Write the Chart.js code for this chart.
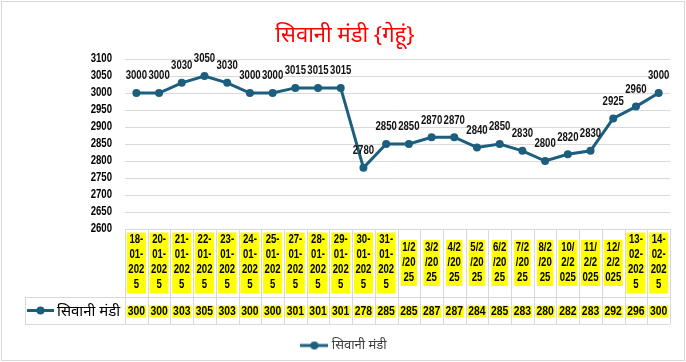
<!DOCTYPE html>
<html><head><meta charset="utf-8">
<script src="https://cdn.jsdelivr.net/npm/chart.js@4"></script>
<style>html,body{margin:0;padding:0;background:#fff}#wrap{width:686px;height:362px;position:relative}</style>
</head><body><div id="wrap"><canvas id="c" width="686" height="362"></canvas></div>
<script>
const categories = ['18-01-2025','20-01-2025','21-01-2025','22-01-2025','23-01-2025','24-01-2025','25-01-2025','27-01-2025','28-01-2025','29-01-2025','30-01-2025','31-01-2025','1/2/2025','3/2/2025','4/2/2025','5/2/2025','6/2/2025','7/2/2025','8/2/2025','10/2/2025','11/2/2025','12/2/2025','13-02-2025','14-02-2025'];
const prices = [3000,3000,3030,3050,3030,3000,3000,3015,3015,3015,2780,2850,2850,2870,2870,2840,2850,2830,2800,2820,2830,2925,2960,3000];
const yMin = 2600, yMax = 3100, yStep = 50;
const seriesName = 'सिवानी मंडी';
const titleText = 'सिवानी मंडी {गेहूं}';

const LINE = '#1b5e7e';
const GRID = '#d9d9d9';
const SANS = "'Liberation Sans',Arial,sans-serif";
const HINDI = "'Noto Sans','Noto Sans Devanagari',Mangal,sans-serif";
const SQ = 0.8; // horizontal squeeze to imitate a narrow bold face

const wrap3 = s => s.match(/.{1,3}/g);
const tableValues = prices.map(v => String(v).slice(0, 3));

const baseFill = CanvasRenderingContext2D.prototype.fillText;
function squeezedFill(ctx, t, x, y) {
  ctx.save(); ctx.translate(x, y); ctx.scale(SQ, 1); baseFill.call(ctx, t, 0, 0); ctx.restore();
}
function condense(scale) {
  if (scale._condensed) return;
  scale._condensed = true;
  const orig = scale.drawLabels;
  scale.drawLabels = function (area) {
    const ctx = this.ctx;
    ctx.fillText = function (t, x, y) { squeezedFill(this, t, x, y); };
    try { orig.call(this, area); } finally { delete ctx.fillText; }
  };
}

function markerImage(w) {
  const c = document.createElement('canvas');
  c.width = w; c.height = 10;
  const g = c.getContext('2d');
  g.strokeStyle = LINE; g.lineWidth = 3;
  g.beginPath(); g.moveTo(0, 5); g.lineTo(w, 5); g.stroke();
  g.fillStyle = LINE; g.beginPath(); g.arc(w / 2, 5, 4, 0, Math.PI * 2); g.fill();
  return c;
}
const legendMarker = markerImage(28);

const TICK_FONT = { family: SANS, size: 12, weight: 'bold', lineHeight: 1.25 };
const TICK_PAD = 11;

const tablePlugin = {
  id: 'tablePlugin',
  beforeDraw(chart) {
    const ctx = chart.ctx;
    const x = chart.scales.x;
    ctx.save();
    ctx.fillStyle = '#fff';
    ctx.fillRect(0, 0, chart.width, chart.height);
    // yellow backdrops behind the category labels
    ctx.font = 'bold 12px ' + SANS;
    const lh = 15;
    categories.forEach((c, i) => {
      const lines = wrap3(c);
      const tw = Math.max(...lines.map(l => ctx.measureText(l).width)) * SQ;
      const cx = x.getPixelForTick(i);
      const top = x.top + TICK_PAD + 30 - lines.length * lh / 2 - lh / 2;
      ctx.fillStyle = '#ffff00';
      ctx.fillRect(cx - tw / 2 - 1.5, top, tw + 3, lines.length * lh + 1);
    });
    ctx.restore();
  },
  afterDraw(chart) {
    const ctx = chart.ctx;
    const x = chart.scales.x;
    const area = chart.chartArea;
    const n = categories.length;
    const w = (area.right - area.left) / n;
    const top = area.bottom;
    const rowTop = 297, rowBot = 324, tableLeft = 25;
    ctx.save();
    ctx.strokeStyle = GRID; ctx.lineWidth = 1;
    ctx.beginPath();
    ctx.moveTo(tableLeft, rowTop + 0.5); ctx.lineTo(area.right, rowTop + 0.5);
    ctx.moveTo(tableLeft, rowBot + 0.5); ctx.lineTo(area.right, rowBot + 0.5);
    ctx.moveTo(tableLeft + 0.5, rowTop); ctx.lineTo(tableLeft + 0.5, rowBot);
    for (let i = 0; i <= n; i++) {
      const bx = Math.round(area.left + i * w) + 0.5;
      ctx.moveTo(bx, top); ctx.lineTo(bx, rowBot);
    }
    ctx.stroke();
    // data row values
    ctx.font = 'bold 13px ' + SANS;
    ctx.textAlign = 'center'; ctx.textBaseline = 'middle';
    const cy = (rowTop + rowBot) / 2 + 1;
    tableValues.forEach((t, i) => {
      const cx = x.getPixelForValue(i);
      const tw = ctx.measureText(t).width * SQ;
      ctx.fillStyle = '#ffff00';
      ctx.fillRect(cx - tw / 2 - 1, cy - 6, tw + 2, 12);
      ctx.fillStyle = '#000';
      squeezedFill(ctx, t, cx, cy);
    });
    // legend key in table
    ctx.strokeStyle = LINE; ctx.lineWidth = 3;
    ctx.beginPath(); ctx.moveTo(27, cy - 1); ctx.lineTo(54, cy - 1); ctx.stroke();
    ctx.fillStyle = LINE; ctx.beginPath(); ctx.arc(40.5, cy - 1, 4, 0, Math.PI * 2); ctx.fill();
    ctx.fillStyle = '#000';
    ctx.font = '15px ' + HINDI;
    ctx.textAlign = 'left';
    ctx.fillText(seriesName, 57, cy);
    // outer border
    ctx.strokeStyle = GRID; ctx.lineWidth = 1;
    ctx.strokeRect(1.5, 1.5, 683, 359);
    ctx.restore();
  },
  afterDatasetsDraw(chart) {
    const ctx = chart.ctx;
    const meta = chart.getDatasetMeta(0);
    ctx.save();
    ctx.font = 'bold 12px ' + SANS;
    ctx.fillStyle = '#111';
    ctx.textAlign = 'center'; ctx.textBaseline = 'middle';
    meta.data.forEach((pt, i) => {
      squeezedFill(ctx, String(prices[i]), pt.x, pt.y - 17);
    });
    ctx.restore();
  }
};

new Chart(document.getElementById('c'), {
  type: 'line',
  data: {
    labels: categories.map(wrap3),
    datasets: [{
      label: seriesName,
      data: prices,
      borderColor: LINE,
      backgroundColor: LINE,
      borderWidth: 3,
      pointRadius: 4,
      pointHoverRadius: 4,
      pointBorderWidth: 0,
      pointBackgroundColor: LINE,
      tension: 0
    }]
  },
  options: {
    responsive: false,
    animation: false,
    devicePixelRatio: 1,
    layout: { padding: { left: 20, right: 16, top: 0, bottom: 0 } },
    plugins: {
      title: {
        display: true, text: titleText, color: '#ff0000',
        font: { family: HINDI, size: 22, weight: 'normal', lineHeight: 1.2 },
        padding: { top: 23, bottom: 9.6 }
      },
      legend: {
        position: 'bottom',
        labels: {
          usePointStyle: true, pointStyle: legendMarker, pointStyleWidth: 22,
          color: '#404040', font: { family: HINDI, size: 13 }, padding: 8
        }
      },
      tooltip: { enabled: false }
    },
    scales: {
      x: {
        offset: true,
        grid: { display: false, drawTicks: false, offset: true },
        border: { display: false },
        ticks: {
          autoSkip: false, maxRotation: 0, minRotation: 0,
          crossAlign: 'center',
          color: '#000',
          font: TICK_FONT,
          padding: TICK_PAD
        },
        afterFit(s) { s.height = 102; condense(s); }
      },
      y: {
        min: yMin, max: yMax,
        grid: { color: GRID, drawTicks: false },
        border: { display: false },
        ticks: {
          stepSize: yStep, autoSkip: false, color: '#000', padding: 13,
          font: { family: SANS, size: 12, weight: 'bold' },
          callback: v => String(v)
        },
        afterFit(s) { s.width = 105; condense(s); }
      }
    }
  },
  plugins: [tablePlugin]
});
</script>
</body></html>
